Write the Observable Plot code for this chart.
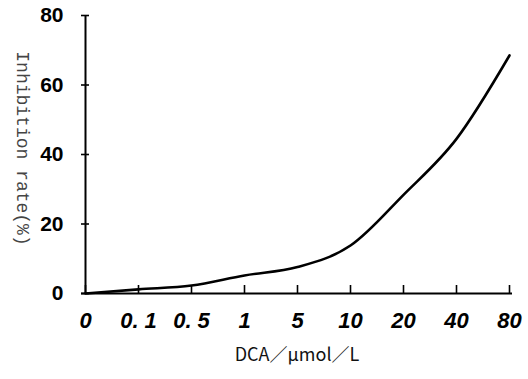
<!DOCTYPE html>
<html>
<head>
<meta charset="utf-8">
<script src="https://cdn.jsdelivr.net/npm/d3@7"></script>
<script src="https://cdn.jsdelivr.net/npm/@observablehq/plot@0.6"></script>
<style>
  html, body { margin: 0; padding: 0; background: #fff; }
  #chart svg { display: block; }
</style>
</head>
<body>
<div id="chart"></div>
<script>
const categories = ["0", "0.1", "0.5", "1", "5", "10", "20", "40", "80"];
const tickLabels = ["0", "0. 1", "0. 5", "1", "5", "10", "20", "40", "80"];
const inhibition = [0, 1.2, 2.3, 5.2, 7.6, 13.8, 28.4, 44.5, 68.5];
const yTicks = [0, 20, 40, 60, 80];
const yTitle = "Inhibition rate(%)";
const xTitle = "DCA／μmol／L";

const data = categories.map((c, i) => ({dose: c, rate: inhibition[i]}));
const labelOf = new Map(categories.map((c, i) => [c, tickLabels[i]]));

const chart = Plot.plot({
  width: 528,
  height: 379,
  marginLeft: 81,
  marginRight: 16,
  marginTop: 15,
  marginBottom: 86,
  style: {background: "#fff", color: "#000"},
  x: {type: "point", domain: categories, padding: 0},
  y: {domain: [0, 80]},
  marks: [
    // axis lines
    Plot.ruleY([0], {stroke: "#000", strokeWidth: 2}),
    Plot.ruleX([categories[0]], {stroke: "#000", strokeWidth: 2}),
    // inward ticks
    Plot.axisY(yTicks, {anchor: "left", tickSize: 8, dx: 8, tickFormat: () => "", strokeWidth: 1.6, label: null}),
    Plot.axisX(categories, {anchor: "bottom", tickSize: 8, dy: -8, tickFormat: () => "", strokeWidth: 1.6, label: null}),
    // tick labels
    Plot.axisY(yTicks, {anchor: "left", tickSize: 0, tickPadding: 18, fontSize: 21, fontWeight: "bold",
      fontFamily: "Liberation Sans, Arial, sans-serif", fill: "#000", label: null}),
    Plot.axisX(categories, {anchor: "bottom", tickSize: 0, tickPadding: 19, fontSize: 22, fontWeight: "bold",
      fontStyle: "italic", fontFamily: "Liberation Sans, Arial, sans-serif", fill: "#000",
      tickFormat: d => labelOf.get(d), label: null}),
    // titles
    Plot.text([yTitle], {frameAnchor: "left", textAnchor: "middle", rotate: 90, dx: -59, dy: -6, fontSize: 18,
      fontFamily: "Liberation Mono, monospace", fill: "#444"}),
    Plot.text([xTitle], {frameAnchor: "bottom", dy: 67, fontSize: 18,
      fontFamily: "Noto Sans CJK SC, sans-serif", fill: "#111"}),
    // curve
    Plot.line(data, {x: "dose", y: "rate", stroke: "#000", strokeWidth: 2.6, curve: "monotone-x"})
  ]
});
document.getElementById("chart").appendChild(chart);
</script>
</body>
</html>
